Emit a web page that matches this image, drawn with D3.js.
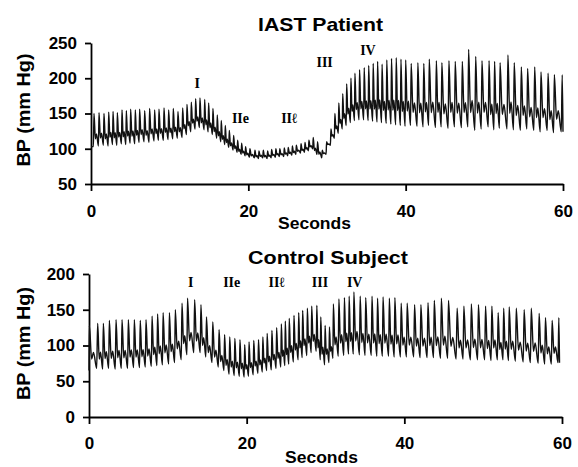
<!DOCTYPE html>
<html>
<head>
<meta charset="utf-8">
<script src="https://cdn.jsdelivr.net/npm/d3@7"></script>
<style>
  body { margin: 0; background: #fff; }
  svg text { font-family: "Liberation Sans", Arial, sans-serif; font-weight: bold; fill: #000; }
  .phase { font-family: "Liberation Serif", "Times New Roman", serif; font-size: 14px; }
</style>
</head>
<body>
<div id="chart"></div>
<script>
// ---- values (one entry per heart beat: peak time, systolic, diastolic) ----
var iastBeatTimes = [0.38, 1.02, 1.65, 2.25, 2.8, 3.35, 3.94, 4.49, 5.04, 5.63,
    6.18, 6.82, 7.45, 8.09, 8.64, 9.28, 9.87, 10.46, 11.05, 11.65,
    12.2, 12.75, 13.3, 13.85, 14.45, 14.95, 15.5, 16.05, 16.56, 17.07,
    17.58, 18.13, 18.64, 19.15, 19.65, 20.2, 20.84, 21.35, 21.9, 22.45,
    22.96, 23.5, 24.0, 24.57, 25.07, 25.6, 26.1, 26.7, 27.2, 27.7,
    28.25, 28.8, 29.4, 29.95, 30.5, 31.0, 31.5, 32.0, 32.5, 33.04,
    33.55, 34.14, 34.73, 35.3, 35.87, 36.43, 37.0, 37.6, 38.2, 38.8,
    39.4, 40.0, 40.7, 41.55, 42.3, 43.0, 43.9, 44.6, 45.5, 46.3,
    47.2, 48.0, 48.9, 49.7, 50.6, 51.3, 52.0, 53.0, 53.8, 54.7,
    55.5, 56.4, 57.2, 58.1, 58.9, 59.9];
var iastSystolic = [150, 151, 150, 152, 153, 151, 155, 154, 156, 155,
    156, 154, 157, 155, 156, 158, 155, 157, 153, 158,
    163, 166, 171, 172, 170, 165, 157, 148, 140, 133,
    126, 119, 112, 108, 103, 100, 98, 97, 98, 97,
    99, 100, 100, 101, 102, 104, 105, 107, 109, 112,
    116, 110, 98, 110, 128, 150, 165, 178, 192, 200,
    207, 212, 215, 218, 221, 224, 220, 226, 228, 229,
    227, 226, 221, 222, 221, 227, 225, 222, 225, 224,
    224, 241, 231, 225, 225, 224, 222, 233, 222, 216,
    214, 216, 209, 207, 205, 205];
var iastDiastolic = [103, 104, 105, 104, 106, 105, 107, 106, 108, 107,
    109, 110, 109, 111, 112, 112, 113, 114, 115, 116,
    120, 124, 128, 130, 127, 124, 120, 115, 110, 106,
    102, 98, 95, 92, 90, 88, 87, 86, 87, 86,
    87, 88, 89, 89, 90, 91, 92, 94, 95, 97,
    100, 92, 87, 92, 105, 115, 122, 128, 133, 137,
    140, 141, 141, 140, 139, 138, 137, 136, 135, 134,
    133, 132, 133, 132, 131, 133, 130, 131, 129, 131,
    130, 131, 126, 128, 131, 127, 129, 128, 127, 126,
    128, 126, 124, 126, 123, 124];

var controlBeatTimes = [0.04, 1.1, 1.82, 2.58, 3.43, 4.19, 4.99, 5.75, 6.5, 7.23,
    8.0, 8.7, 9.4, 10.2, 10.95, 11.8, 12.5, 13.4, 14.2, 14.9,
    15.7, 16.5, 17.2, 17.85, 18.5, 19.15, 19.75, 20.3, 20.9, 21.5,
    22.05, 22.6, 23.2, 23.8, 24.4, 24.9, 25.4, 26.0, 26.6, 27.1,
    27.7, 28.25, 28.9, 29.4, 29.95, 30.5, 31.0, 31.7, 32.4, 33.0,
    33.6, 34.4, 35.1, 35.9, 36.6, 37.3, 38.1, 38.8, 39.6, 40.36,
    41.3, 42.1, 43.0, 43.8, 44.7, 45.6, 46.7, 47.55, 48.5, 49.4,
    50.3, 51.1, 51.9, 52.6, 53.3, 54.2, 55.2, 56.1, 57.1, 57.9,
    58.75, 59.6];
var controlSystolic = [128, 131, 131, 135, 136, 136, 136, 136, 135, 136,
    141, 144, 146, 146, 150, 159, 166, 164, 157, 140,
    133, 122, 115, 112, 110, 108, 101, 105, 107, 108,
    112, 117, 121, 125, 130, 134, 138, 142, 146, 149,
    152, 155, 156, 140, 128, 126, 158, 165, 167, 169,
    175, 169, 167, 169, 166, 168, 166, 167, 159, 159,
    157, 157, 160, 163, 166, 163, 152, 155, 158, 157,
    155, 155, 146, 152, 154, 152, 150, 152, 145, 139,
    135, 139];
var controlDiastolic = [65, 68, 67, 68, 67, 68, 68, 69, 69, 70,
    71, 72, 73, 74, 76, 80, 87, 90, 90, 84,
    76, 70, 65, 60, 58, 57, 56, 57, 59, 61,
    63, 65, 66, 68, 70, 72, 74, 77, 80, 83,
    86, 90, 92, 80, 73, 76, 82, 85, 86, 88,
    88, 87, 86, 86, 85, 85, 85, 84, 84, 84,
    84, 83, 83, 83, 82, 82, 81, 81, 80, 80,
    80, 79, 80, 80, 79, 78, 77, 76, 75, 74,
    74, 76];

var secondsTicks = [0, 20, 40, 60];
var iastBpTicks = [50, 100, 150, 200, 250];
var controlBpTicks = [0, 50, 100, 150, 200];

var phaseNames = ["I", "IIe", "II\u2113", "III", "IV"];
var iastPhaseTimes = [13.5, 19.0, 25.2, 29.7, 35.2];
var iastPhaseBP = [186, 137, 137, 216, 233];
var controlPhaseTimes = [12.9, 18.1, 23.8, 29.3, 33.7];
var controlPhaseBP = [182, 182, 182, 182, 182];

var svg = d3.select("#chart")
  .append("svg")
    .attr("width", 578)
    .attr("height", 467);

// turn the beat list into a pressure trace: upstroke, peak, dicrotic notch, dicrotic wave, next trough
function beatPoints(times, sys, dia) {
    var pts = [];
    times.forEach(function(t, i) {
        var last = i === times.length - 1;
        var prevP = i > 0 ? t - times[i - 1] : times[1] - times[0];
        var p = last ? prevP : times[i + 1] - t;
        var nextDia = last ? dia[i] : dia[i + 1];
        var onset = t - 0.12 * prevP;
        if (i === 0 && onset > 0.02) pts.push([0, dia[0]]);
        pts.push([Math.max(0, onset), dia[i]]);
        pts.push([t, sys[i]]);
        if (last) { pts.push([t + 0.1 * p, nextDia]); return; }
        pts.push([t + 0.28 * p, nextDia + 0.22 * (sys[i] - nextDia)]);
        pts.push([t + 0.5 * p, nextDia + 0.37 * (sys[i] - nextDia)]);
    });
    return pts;
}

function makePanel(o) {
    var x = d3.scaleLinear().domain([0, 60]).range([o.left, o.right]);
    var y = d3.scaleLinear().domain(o.yDomain).range([o.bottom, o.top]);

    // X axis
    var xAxis = svg.append("g")
        .attr("transform", "translate(0," + o.bottom + ")")
        .call(d3.axisBottom(x).tickValues(secondsTicks).tickSize(7).tickPadding(o.xPad).tickSizeOuter(0));
    // Y axis
    var yAxis = svg.append("g")
        .attr("transform", "translate(" + o.left + ",0)")
        .call(d3.axisLeft(y).tickValues(o.yTicks).tickSize(6).tickPadding(8).tickSizeOuter(0));
    [xAxis, yAxis].forEach(function(a) {
        a.attr("font-size", null).attr("font-family", null);
        a.selectAll("path, line").attr("stroke", "#000").attr("stroke-width", 1.8);
        a.selectAll("text").style("font-size", "17px");
    });

    // pressure trace
    var line = d3.line()
        .x(function(d) { return x(d[0]); })
        .y(function(d) { return y(d[1]); })
        .curve(d3.curveMonotoneX);
    svg.append("path")
        .datum(beatPoints(o.times, o.sys, o.dia))
        .attr("fill", "none")
        .attr("stroke", "#111")
        .attr("stroke-width", 1.4)
        .attr("stroke-linejoin", "round")
        .attr("d", line);

    // phase labels
    svg.selectAll(null)
        .data(phaseNames)
        .enter().append("text")
        .attr("class", "phase")
        .attr("text-anchor", "middle")
        .attr("x", function(d, i) { return x(o.phaseT[i]); })
        .attr("y", function(d, i) { return y(o.phaseBP[i]); })
        .text(function(d) { return d; });

    // titles
    svg.append("text")
        .attr("text-anchor", "middle")
        .attr("x", o.titleX).attr("y", o.titleY)
        .style("font-size", "18.5px")
        .attr("textLength", o.titleLen).attr("lengthAdjust", "spacingAndGlyphs")
        .text(o.title);
    svg.append("text")
        .attr("text-anchor", "middle")
        .attr("x", o.secX).attr("y", o.secY)
        .style("font-size", "17px")
        .attr("textLength", 73).attr("lengthAdjust", "spacingAndGlyphs")
        .text("Seconds");
    svg.append("text")
        .attr("text-anchor", "middle")
        .attr("transform", "translate(30," + o.yLabelY + ") rotate(-90)")
        .style("font-size", "18px")
        .attr("textLength", 113).attr("lengthAdjust", "spacingAndGlyphs")
        .text("BP (mm Hg)");
}

makePanel({
    left: 91, right: 563, top: 43, bottom: 184, xPad: 14,
    yDomain: [50, 250], yTicks: iastBpTicks,
    times: iastBeatTimes, sys: iastSystolic, dia: iastDiastolic,
    phaseT: iastPhaseTimes, phaseBP: iastPhaseBP,
    title: "IAST Patient", titleX: 320.5, titleY: 31, titleLen: 125,
    secX: 314.5, secY: 229, yLabelY: 110
});

makePanel({
    left: 89, right: 562, top: 274, bottom: 417, xPad: 13,
    yDomain: [0, 200], yTicks: controlBpTicks,
    times: controlBeatTimes, sys: controlSystolic, dia: controlDiastolic,
    phaseT: controlPhaseTimes, phaseBP: controlPhaseBP,
    title: "Control Subject", titleX: 328, titleY: 263.5, titleLen: 160,
    secX: 321.5, secY: 462.5, yLabelY: 343.5
});
</script>
</body>
</html>
